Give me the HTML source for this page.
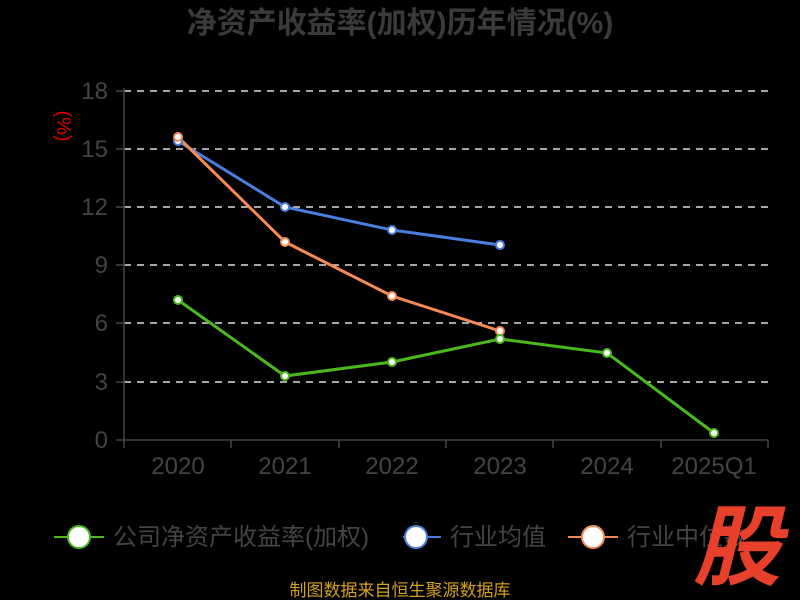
<!DOCTYPE html>
<html><head><meta charset="utf-8"><style>
html,body{margin:0;padding:0;background:#000;width:800px;height:600px;overflow:hidden}
</style></head><body>
<svg width="800" height="600" xmlns="http://www.w3.org/2000/svg" font-family="Liberation Sans, Noto Sans CJK SC, sans-serif">
<rect width="800" height="600" fill="#000"/>
<text x="400" y="33" text-anchor="middle" font-size="30" font-weight="bold" fill="#3a3a3a">净资产收益率(加权)历年情况(%)</text>
<text transform="translate(57,126) rotate(90)" text-anchor="middle" font-size="20" fill="#e00000">(%)</text>
<g stroke="#ddd" stroke-width="1.5" stroke-dasharray="7,6">
<line x1="124" y1="91" x2="768" y2="91"/>
<line x1="124" y1="149" x2="768" y2="149"/>
<line x1="124" y1="207" x2="768" y2="207"/>
<line x1="124" y1="265" x2="768" y2="265"/>
<line x1="124" y1="323" x2="768" y2="323"/>
<line x1="124" y1="382" x2="768" y2="382"/>
</g>
<g stroke="#444" stroke-width="1.5">
<line x1="124" y1="88" x2="124" y2="440"/>
<line x1="116" y1="91" x2="124" y2="91"/><line x1="116" y1="149" x2="124" y2="149"/><line x1="116" y1="207" x2="124" y2="207"/><line x1="116" y1="265" x2="124" y2="265"/><line x1="116" y1="323" x2="124" y2="323"/><line x1="116" y1="382" x2="124" y2="382"/><line x1="116" y1="440" x2="124" y2="440"/>
<line x1="124" y1="440" x2="768" y2="440"/>
<line x1="124" y1="440" x2="124" y2="448"/><line x1="231" y1="440" x2="231" y2="448"/><line x1="339" y1="440" x2="339" y2="448"/><line x1="446" y1="440" x2="446" y2="448"/><line x1="553" y1="440" x2="553" y2="448"/><line x1="661" y1="440" x2="661" y2="448"/><line x1="768" y1="440" x2="768" y2="448"/>
</g>
<g font-size="24" fill="#444" text-anchor="end">
<text x="108" y="99">18</text><text x="108" y="157">15</text><text x="108" y="215">12</text><text x="108" y="273">9</text><text x="108" y="331">6</text><text x="108" y="390">3</text><text x="108" y="448">0</text>
</g>
<g font-size="24" fill="#444" text-anchor="middle">
<text x="178" y="474">2020</text><text x="285" y="474">2021</text><text x="392" y="474">2022</text><text x="500" y="474">2023</text><text x="607" y="474">2024</text><text x="714" y="474">2025Q1</text>
</g>
<polyline points="178,141 285,207 392,230 500,245" fill="none" stroke="#4a7fe0" stroke-width="3"/>
<polyline points="178,137 285,242 392,296 500,331" fill="none" stroke="#f58a55" stroke-width="3"/>
<polyline points="178,300 285,376 392,362 500,339 607,353 714,433" fill="none" stroke="#4cb81c" stroke-width="3"/>
<g fill="#fff" stroke="#4a7fe0" stroke-width="2"><circle cx="178" cy="141" r="4"/><circle cx="285" cy="207" r="4"/><circle cx="392" cy="230" r="4"/><circle cx="500" cy="245" r="4"/></g>
<g fill="#fff" stroke="#f58a55" stroke-width="2"><circle cx="178" cy="137" r="4"/><circle cx="285" cy="242" r="4"/><circle cx="392" cy="296" r="4"/><circle cx="500" cy="331" r="4"/></g>
<g fill="#fff" stroke="#4cb81c" stroke-width="2"><circle cx="178" cy="300" r="4"/><circle cx="285" cy="376" r="4"/><circle cx="392" cy="362" r="4"/><circle cx="500" cy="339" r="4"/><circle cx="607" cy="353" r="4"/><circle cx="714" cy="433" r="4"/></g>
<g font-size="24" fill="#444">
<line x1="54" y1="537" x2="104" y2="537" stroke="#4cb81c" stroke-width="2"/><circle cx="79" cy="537" r="11" fill="#fff" stroke="#4cb81c" stroke-width="2"/>
<text x="113" y="545">公司净资产收益率(加权)</text>
<line x1="403" y1="537" x2="441" y2="537" stroke="#4a7fe0" stroke-width="2"/><circle cx="416" cy="537" r="11" fill="#fff" stroke="#4a7fe0" stroke-width="2"/>
<text x="450" y="545">行业均值</text>
<line x1="568" y1="537" x2="618" y2="537" stroke="#f58a55" stroke-width="2"/><circle cx="593" cy="537" r="11" fill="#fff" stroke="#f58a55" stroke-width="2"/>
<text x="627" y="545">行业中位数</text>
</g>
<text x="737" y="578" text-anchor="middle" font-size="88" font-weight="bold" font-style="italic" fill="#e8402a" font-family="Noto Sans CJK SC, sans-serif">股</text>
<text x="400" y="596" text-anchor="middle" font-size="17" fill="#d4a020">制图数据来自恒生聚源数据库</text>
</svg>
</body></html>
